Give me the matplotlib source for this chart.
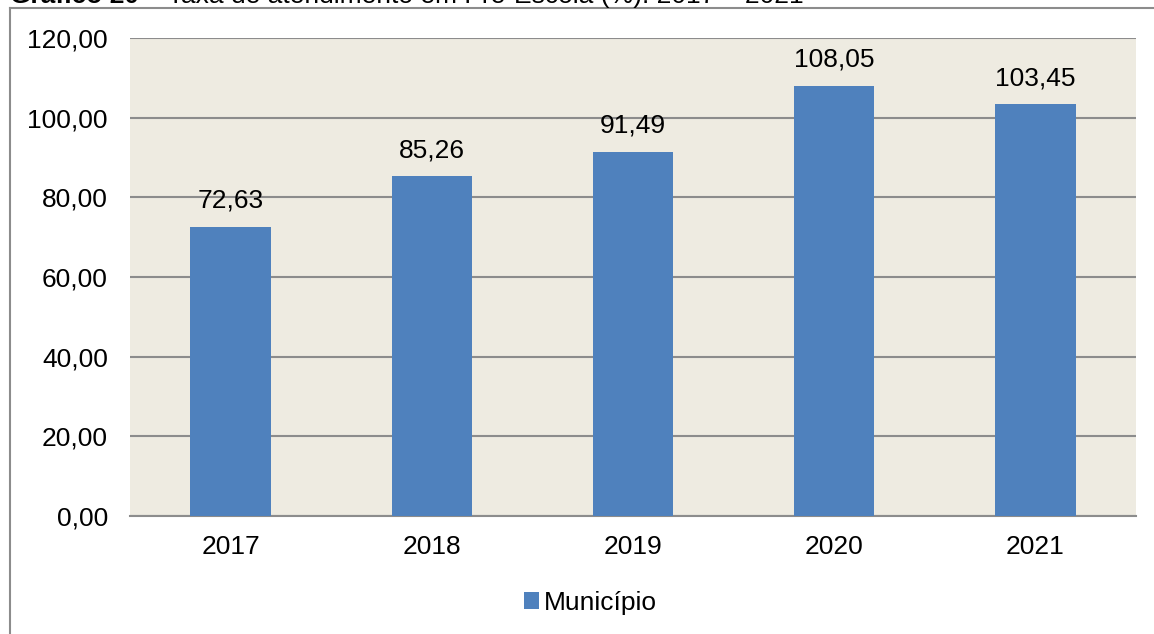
import matplotlib.pyplot as plt
from matplotlib.lines import Line2D

plt.rcParams['font.family'] = ['Liberation Sans', 'DejaVu Sans']

anos = ['2017', '2018', '2019', '2020', '2021']
municipio = [72.63, 85.26, 91.49, 108.05, 103.45]
yticks = [0, 20, 40, 60, 80, 100, 120]

fig = plt.figure(figsize=(11.54, 6.34), dpi=100)
ax = fig.add_axes([130/1154, 1-516/634, (1136-130)/1154, (516-38)/634])
ax.set_facecolor('#EEEBE1')

x = range(len(anos))
bars = ax.bar(x, municipio, width=0.4, color='#4F81BD', zorder=3, label='Município')
for b, v in zip(bars, municipio):
    ax.annotate(f'{v:.2f}'.replace('.', ','), (b.get_x() + b.get_width()/2, v),
                xytext=(0, 10), textcoords='offset points',
                ha='center', va='bottom', fontsize=19)

ax.set_ylim(0, 120)
ax.set_xlim(-0.5, len(anos) - 0.5)
ax.set_yticks(yticks)
ax.set_yticklabels([f'{t:.2f}'.replace('.', ',') for t in yticks], fontsize=19)
ax.set_xticks(list(x))
ax.set_xticklabels(anos, fontsize=19)
ax.tick_params(length=0)
ax.tick_params(axis='y', pad=16)
ax.tick_params(axis='x', pad=14)
ax.grid(axis='y', color='#8C8C8C', linewidth=1.5, zorder=1)
for s in ['top', 'right', 'left']:
    ax.spines[s].set_visible(False)
ax.spines['bottom'].set_color('#8C8C8C')
ax.spines['bottom'].set_linewidth(1.5)

fig.legend(loc='center', bbox_to_anchor=(590/1154, 1-603/634), frameon=False,
           fontsize=19, handlelength=0.6, handleheight=0.6, handletextpad=0.15)

# moldura externa
fig.add_artist(Line2D([10/1154, 10/1154], [0, 1-8/634], color='#8C8C8C', lw=1.5))
fig.add_artist(Line2D([10/1154, 1], [1-8/634, 1-8/634], color='#8C8C8C', lw=1.5))

# titulo (cortado no topo, como no original)
t1 = fig.text(10/1154, 1-3/634, 'Gráfico 20 ', fontsize=19, fontweight='bold',
              va='baseline', ha='left')
fig.canvas.draw()
bb = t1.get_window_extent()
fig.text(bb.x1/1154, 1-3/634, '– Taxa de atendimento em Pré-Escola (%): 2017 – 2021',
         fontsize=19, va='baseline', ha='left')

fig.savefig('out.png')
